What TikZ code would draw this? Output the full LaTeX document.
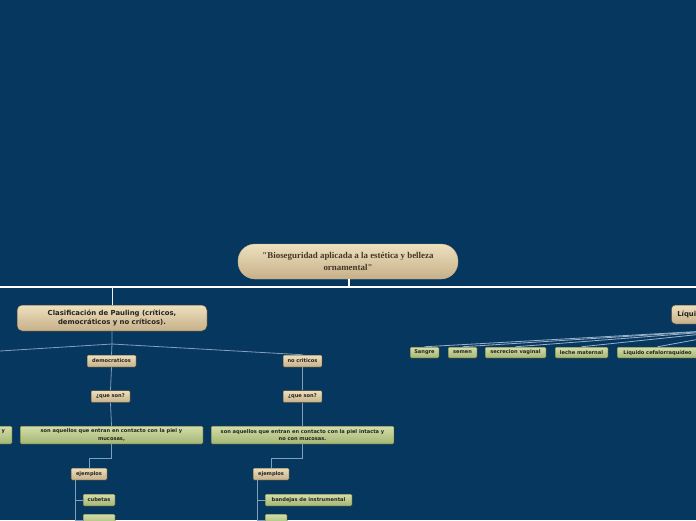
\documentclass[tikz,border=0pt]{standalone}
\usepackage{fontspec}
\setmainfont{DejaVu Sans}
\newfontfamily\rootfont{Liberation Serif}
\definecolor{bg}{HTML}{05375F}
\definecolor{beigeT}{HTML}{EEE0BE}
\definecolor{beigeB}{HTML}{C6B089}
\definecolor{greenT}{HTML}{D3DEA9}
\definecolor{greenB}{HTML}{A3B673}
\definecolor{conn}{HTML}{819EBC}
\definecolor{txt}{HTML}{262320}
\begin{document}
\begin{tikzpicture}[x=1pt,y=-1pt,
  box/.style={anchor=center, inner sep=0pt, align=center, text=txt, font=\bfseries\fontsize{5.1}{7.3}\selectfont},
  beige/.style={box, top color=beigeT, bottom color=beigeB, draw=black!65!beigeB, line width=0.5pt, rounded corners=1pt},
  greenbox/.style={box, top color=greenT, bottom color=greenB, draw=black!65!greenB, line width=0.5pt, rounded corners=1pt},
  conline/.style={draw=conn, line width=0.8pt},
  mainline/.style={draw=white, line width=2.4pt},
]
\useasboundingbox (0,0) rectangle (696,520);
\fill[bg] (0,0) rectangle (696,520);
\clip (0,0) rectangle (696,520);

% root
\node[box, top color=beigeT, bottom color=beigeB, draw=beigeB, rounded corners=17pt,
      minimum width=220, minimum height=35,
      font=\rootfont\bfseries\fontsize{8.9}{12}\selectfont, text=txt!80!brown] (root) at (348,261.5)
  {"Bioseguridad aplicada a la estética y belleza\\ornamental"};

\coordinate (hl) at (-10,287);
\coordinate (hr) at (706,287);
\coordinate (hroot) at (349,287);
\coordinate (hclas) at (112,287);
\draw[mainline] (hl) -- (hr);
\draw[mainline] (root.south -| hroot) -- (hroot);

% Clasificación
\node[beige, rounded corners=5pt, minimum width=190, minimum height=26,
      font=\bfseries\fontsize{6.9}{8.4}\selectfont] (clas) at (112,318)
  {Clasificación de Pauling (críticos,\\democráticos y no críticos).};
\draw[draw=white!85!conn, line width=0.9pt] (hclas) -- (clas.north);

% Líquidos
\node[beige, rounded corners=4pt, minimum width=130, minimum height=19, text width=118, align=left,
      font=\bfseries\fontsize{6.9}{8.4}\selectfont, anchor=west] (liq) at (671,314.5) {Líquidos};

% left fan
\coordinate (cfan) at (112,344);
\coordinate (lcrit) at (-80,356);
\node[beige, minimum width=49, minimum height=12] (dem) at (111.5,361) {democraticos};
\node[beige, minimum width=39, minimum height=12] (noc) at (302.5,361) {no criticos};
\draw[conline] (clas.south) -- (cfan) -- (dem.north);
\draw[conline] (cfan) -- (lcrit);
\draw[conline] (cfan) -- (noc.north);

% democraticos column
\node[beige, minimum width=39, minimum height=12] (q1) at (110.5,396.5) {¿que son?};
\node[greenbox, minimum width=183, minimum height=18] (g1) at (111.5,435)
  {son aquellos que entran en contacto con la piel y\\mucosas,};
\node[beige, minimum width=36, minimum height=12] (e1) at (89,474) {ejemplos};
\node[greenbox, minimum width=32, minimum height=12] (cub) at (99,500) {cubetas};
\node[greenbox, minimum width=32, minimum height=12] (n1) at (99,520) {};
\draw[conline] (dem.south) -- (q1.north);
\draw[conline] (q1.south) -- (g1.north);
\draw[conline] (g1.south) -- ++(0,14) -| (e1.north);
\coordinate (e1b) at (75,480);
\coordinate (e1end) at (75,530);
\draw[conline] (e1b) -- (e1end);
\draw[conline] (cub.west -| e1b) -- (cub.west);
\draw[conline] (n1.west -| e1b) -- (n1.west);

% left partial green node
\node[greenbox, minimum width=100, minimum height=18, text width=86, align=right] (g0) at (-38,435)
  {y\\\phantom{y}};

% no criticos column
\node[beige, minimum width=39, minimum height=12] (q2) at (302.5,396.5) {¿que son?};
\node[greenbox, minimum width=183, minimum height=18] (g2) at (302.5,435)
  {son aquellos que entran en contacto con la piel intacta y\\no con mucosas.};
\node[beige, minimum width=36, minimum height=12] (e2) at (271,474) {ejemplos};
\node[greenbox, minimum width=87, minimum height=12] (band) at (308.5,500) {bandejas de instrumental};
\node[greenbox, minimum width=22, minimum height=12] (n2) at (276,520) {};
\draw[conline] (noc.south) -- (q2.north);
\draw[conline] (q2.south) -- (g2.north);
\draw[conline] (g2.south) -- ++(0,14) -| (e2.north);
\coordinate (e2b) at (257,480);
\coordinate (e2end) at (257,530);
\draw[conline] (e2b) -- (e2end);
\draw[conline] (band.west -| e2b) -- (band.west);
\draw[conline] (n2.west -| e2b) -- (n2.west);

% Líquidos children
\coordinate (lfan) at (760,328);
\node[greenbox, minimum width=29, minimum height=11] (san) at (424.5,352.5) {Sangre};
\node[greenbox, minimum width=29, minimum height=11] (sem) at (462.5,352.5) {semen};
\node[greenbox, minimum width=61, minimum height=11] (sec) at (515.5,352.5) {secrecion vaginal};
\node[greenbox, minimum width=53, minimum height=11] (lec) at (581.5,352.5) {leche maternal};
\node[greenbox, minimum width=81, minimum height=11] (cef) at (657.5,352.5) {Líquido cefalorraquídeo};
\foreach \n in {san,sem,sec,lec,cef}{
  \draw[conline, draw=conn!80!white] (\n.north) -- (lfan);
}
\end{tikzpicture}
\end{document}
